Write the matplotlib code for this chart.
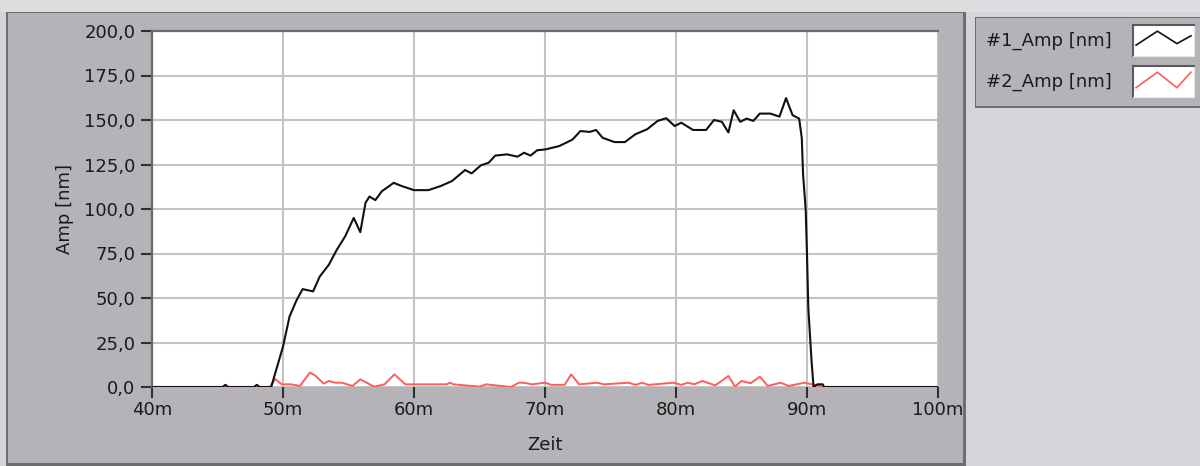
import matplotlib.pyplot as plt
from matplotlib.patches import Rectangle
from matplotlib.ticker import FuncFormatter, MultipleLocator

# Messdaten (Zeit in ms, Amplitude in nm)
zeit_1 = [40, 45.4, 45.6, 45.8, 47.8, 48.0, 48.2, 49.1, 50.0, 50.5, 51.05, 51.5, 52.3, 52.8,
          53.5, 54.1, 54.75, 55.4, 55.9, 56.3, 56.6, 57.05, 57.55, 58.45, 59.1, 60.0, 61.1,
          62.0, 62.9, 63.9, 64.4, 65.1, 65.7, 66.2, 67.1, 67.9, 68.4, 68.9, 69.4, 70.05,
          71.1, 72.1, 72.7, 73.4, 73.9, 74.4, 75.3, 76.1, 76.9, 77.8, 78.6, 79.25, 79.9,
          80.4, 81.3, 82.3, 82.9, 83.5, 84.0, 84.4, 84.9, 85.4, 85.9, 86.4, 87.2, 87.9,
          88.4, 88.9, 89.4, 89.6, 89.7, 89.9, 90.0, 90.1, 90.35, 90.5, 90.8, 91.2, 91.3, 100]
amp_1 = [0, 0, 1.2, 0, 0, 1.2, 0, 0, 22.7, 39.6, 49, 55, 53.7, 62,
         68.7, 77, 84.7, 95, 87, 103.5, 107, 105, 110, 114.7, 112.8, 110.6, 110.6,
         112.8, 115.7, 121.9, 120, 124.5, 126, 130, 130.7, 129.4, 131.6, 130, 133, 133.5,
         135.4, 139, 143.8, 143.3, 144.4, 140, 137.6, 137.6, 142, 144.8, 149.5, 151, 146.6,
         148.5, 144.4, 144.4, 150, 149, 143, 155.5, 149, 150.8, 149.5, 153.6, 153.6, 151.9,
         162.3, 152.7, 150.8, 140, 119.4, 99.7, 74.4, 44.3, 14.3, 0, 1.5, 1.5, 0, 0]

zeit_2 = [40, 45.4, 45.6, 45.8, 47.8, 48.0, 48.2, 49.0, 49.4, 49.9, 50.6, 51.3, 52.05, 52.5,
          53.1, 53.5, 54.0, 54.5, 55.3, 55.9, 56.95, 57.75, 58.5, 59.35, 62.5, 62.75, 63.0,
          65.0, 65.5, 67.4, 68.0, 68.4, 69.0, 70.0, 70.5, 71.5, 72.0, 72.6, 74.0, 74.5,
          76.4, 76.9, 77.4, 77.9, 79.8, 80.4, 80.9, 81.4, 82.0, 83.0, 84.0, 84.5, 85.0,
          85.7, 86.4, 87.0, 88.0, 88.6, 89.8, 90.4, 91.0, 91.2, 100]
amp_2 = [0, 0, 1.2, 0, 0, 1.2, 0, 0, 4.5, 1.5, 1.5, 0.6, 8.1, 6.2,
         1.9, 3.4, 2.4, 2.4, 0.6, 4.3, 0.2, 1.5, 7.1, 1.5, 1.5, 2.4, 1.5,
         0.2, 1.5, 0, 2.4, 2.4, 1.5, 2.4, 1.2, 1.2, 7.1, 1.5, 2.4, 1.5,
         2.4, 1.2, 2.4, 1.2, 2.4, 1.2, 2.4, 1.5, 3.4, 0.9, 6.2, 0.2, 3.4,
         2.1, 5.8, 0.6, 2.4, 0.6, 2.4, 1.5, 0.6, 0, 0]

namen = ['#1_Amp [nm]', '#2_Amp [nm]']
farben = ['#111111', '#ff5c5c']

W, H = 1200, 466
plt.rcParams['font.family'] = 'DejaVu Sans'
plt.rcParams['font.size'] = 13
txt = '#1a1a1a'

fig = plt.figure(figsize=(W / 100, H / 100), dpi=100)
fig.patch.set_facecolor('#d6d4d8')


def box(x0, y0, x1, y1, **kw):
    # Rechteck in Pixelkoordinaten (y von oben), hinter allen Achsen
    r = Rectangle((x0 / W, 1 - y1 / H), (x1 - x0) / W, (y1 - y0) / H,
                  transform=fig.transFigure, zorder=-10, **kw)
    fig.patches.append(r)


# Rahmen um den Graphen und um die Legende
box(0, 0, W, 12, facecolor='#dddcdf', edgecolor='none')
box(6, 12, 966, 466, facecolor='#6e6e6e', edgecolor='none')
box(8, 13, 963, 463, facecolor='#b5b3b7', edgecolor='none')
box(975, 17, W, 108, facecolor='#6e6e6e', edgecolor='none')
box(976, 18, W, 106, facecolor='#b5b3b7', edgecolor='none')

ax = fig.add_axes([152 / W, 1 - 387 / H, 786 / W, 356 / H])
ax.set_facecolor('white')

ax.plot(zeit_2, amp_2, color=farben[1], linewidth=1.4, zorder=3)
ax.plot(zeit_1, amp_1, color=farben[0], linewidth=1.5, zorder=4)

ax.set_xlim(40, 100)
ax.set_ylim(0, 200)
ax.xaxis.set_major_locator(MultipleLocator(10))
ax.yaxis.set_major_locator(MultipleLocator(25))
ax.xaxis.set_major_formatter(FuncFormatter(lambda v, p: f'{v:.0f}m'))
ax.yaxis.set_major_formatter(FuncFormatter(lambda v, p: f'{v:.1f}'.replace('.', ',')))
ax.grid(True, color='#c4c4c4', linewidth=1.5)
ax.set_axisbelow(True)

for s in ['right', 'bottom']:
    ax.spines[s].set_visible(False)
for s in ['left', 'top']:
    ax.spines[s].set_color('#6a6a6a')
    ax.spines[s].set_linewidth(1.6)

ax.tick_params(axis='both', direction='out', length=8, width=1.5, colors='#303030',
               labelcolor=txt)
ax.tick_params(axis='x', pad=2)
ax.tick_params(axis='y', pad=4)
ax.set_xlabel('Zeit', color=txt, labelpad=12)
ax.set_ylabel('Amp [nm]', color=txt, labelpad=7)

# Legende mit Linienmustern
legend_y = [41, 82]
zickzack_x = [0.05, 0.4, 0.72, 0.95]
zickzack_y = [[0.35, 0.8, 0.4, 0.65], [0.3, 0.8, 0.3, 0.8]]
for i, name in enumerate(namen):
    fig.text(986 / W, 1 - legend_y[i] / H, name, ha='left', va='center', color=txt)
    sw = fig.add_axes([1133 / W, 1 - (legend_y[i] + 15) / H, 61 / W, 31 / H])
    sw.set_facecolor('white')
    sw.plot(zickzack_x, zickzack_y[i], color=farben[i], linewidth=1.2)
    sw.set_xlim(0, 1)
    sw.set_ylim(0, 1)
    sw.set_xticks([])
    sw.set_yticks([])
    for s in ['left', 'top']:
        sw.spines[s].set_color('#5a5a5a')
        sw.spines[s].set_linewidth(1.5)
    for s in ['right', 'bottom']:
        sw.spines[s].set_color('#e8e8e8')

fig.savefig('out.png', dpi=100, facecolor=fig.get_facecolor())
